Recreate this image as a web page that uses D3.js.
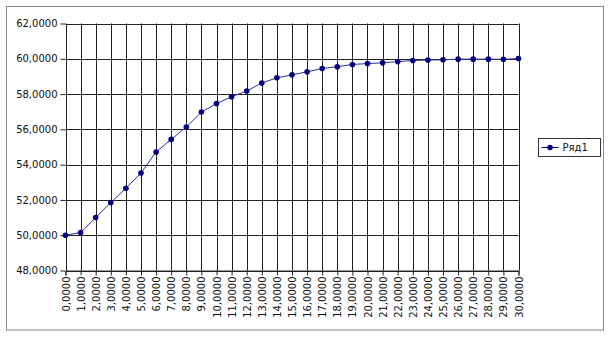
<!DOCTYPE html>
<html>
<head>
<meta charset="utf-8">
<script src="https://cdn.jsdelivr.net/npm/d3@7"></script>
<style>
  body { margin: 0; background: #fff; }
  svg text { font-family: "DejaVu Sans", sans-serif; font-size: 10px; fill: #111; }
</style>
</head>
<body>
<div id="chart"></div>
<script>
// x values 0..30, y values
var xValues = [0,1,2,3,4,5,6,7,8,9,10,11,12,13,14,15,16,17,18,19,20,21,22,23,24,25,26,27,28,29,30];
var seriesValues = [50.00, 50.15, 51.00, 51.85, 52.66, 53.53, 54.72, 55.43, 56.13, 56.98, 57.46,
                    57.85, 58.17, 58.63, 58.92, 59.09, 59.26, 59.45, 59.55, 59.68, 59.73,
                    59.77, 59.84, 59.90, 59.93, 59.94, 59.98, 59.98, 59.98, 59.97, 60.02];
var yTicks = [48, 50, 52, 54, 56, 58, 60, 62];
var seriesName = "Ряд1";

var width = 610, height = 337;
var fmt = function (v) { return d3.format(".4f")(v).replace(".", ","); };

var svg = d3.select("#chart").append("svg")
    .attr("width", width)
    .attr("height", height);

// outer frame
svg.append("rect")
    .attr("x", 6.5).attr("y", 6.5)
    .attr("width", 597).attr("height", 323.5)
    .attr("fill", "#fff").attr("stroke", "#888").attr("stroke-width", 1);

var x = d3.scaleLinear().domain([0, 30]).range([65.5, 518.5]);
var y = d3.scaleLinear().domain([48, 62]).range([270.5, 23.5]);

// grid lines
svg.append("g").selectAll("line").data(yTicks).join("line")
    .attr("x1", x(0)).attr("x2", x(30))
    .attr("y1", d => Math.round(y(d)) + 0.5).attr("y2", d => Math.round(y(d)) + 0.5)
    .attr("stroke", "#222");
svg.append("g").selectAll("line").data(xValues).join("line")
    .attr("x1", d => Math.round(x(d)) + 0.5).attr("x2", d => Math.round(x(d)) + 0.5)
    .attr("y1", y(62)).attr("y2", y(48))
    .attr("stroke", "#222");

// axes
var yAxis = d3.axisLeft(y).tickValues(yTicks).tickFormat(fmt).tickSize(5).tickPadding(3);
var gy = svg.append("g").attr("transform", "translate(" + x(0) + ",0)").call(yAxis);
gy.select(".domain").remove();
gy.selectAll(".tick line").attr("stroke", "#222");

var xAxis = d3.axisBottom(x).tickValues(xValues).tickFormat(fmt).tickSize(5).tickPadding(3);
var gx = svg.append("g").attr("transform", "translate(0," + y(48) + ")").call(xAxis);
gx.select(".domain").attr("stroke", "#222");
gx.selectAll(".tick line").attr("stroke", "#222");
gx.selectAll(".tick text")
    .attr("transform", "rotate(-90)")
    .attr("text-anchor", "end")
    .attr("x", -6).attr("y", 0).attr("dy", "0.35em");

svg.selectAll(".tick text").style("font-family", "DejaVu Sans").style("font-size", "10px").attr("fill", "#111");

// series
var line = d3.line().x((d, i) => x(xValues[i])).y(d => y(d));
svg.append("path").datum(seriesValues)
    .attr("d", line)
    .attr("fill", "none").attr("stroke", "#2f2fa0").attr("stroke-width", 1);
svg.append("g").selectAll("circle").data(seriesValues).join("circle")
    .attr("cx", (d, i) => x(xValues[i])).attr("cy", d => y(d))
    .attr("r", 2.8).attr("fill", "#000080");

// legend
var lg = svg.append("g").attr("transform", "translate(538.5,138.5)");
lg.append("rect").attr("width", 62).attr("height", 18)
    .attr("fill", "#fff").attr("stroke", "#333");
lg.append("line").attr("x1", 3).attr("x2", 20).attr("y1", 9).attr("y2", 9)
    .attr("stroke", "#000080");
lg.append("circle").attr("cx", 11.5).attr("cy", 9).attr("r", 2.8).attr("fill", "#000080");
lg.append("text").attr("x", 24).attr("y", 9).attr("dy", "0.35em").text(seriesName);
</script>
</body>
</html>
